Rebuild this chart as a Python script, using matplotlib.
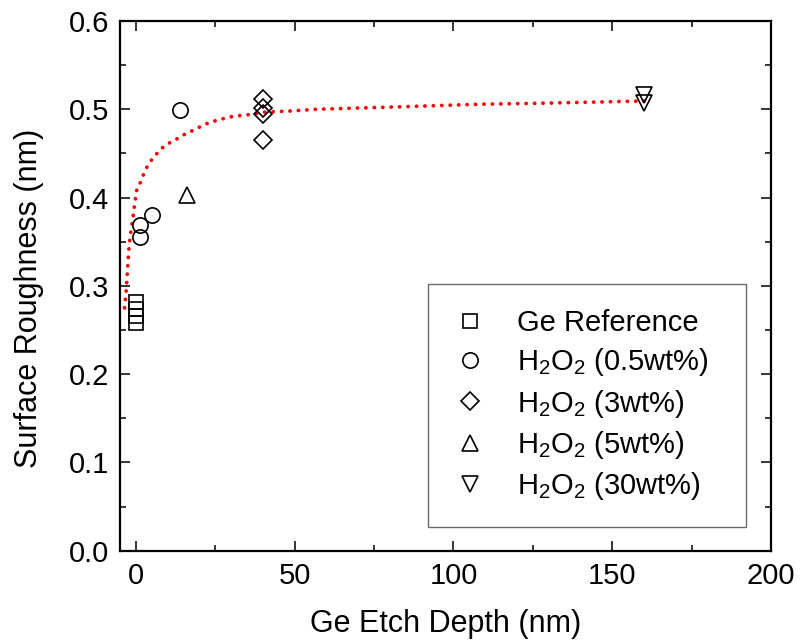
import matplotlib
matplotlib.use("Agg")
import matplotlib.pyplot as plt

plt.rcParams['font.family'] = ['Liberation Sans', 'DejaVu Sans']
plt.rcParams['mathtext.fontset'] = 'custom'
plt.rcParams['mathtext.rm'] = 'Liberation Sans'
plt.rcParams['mathtext.it'] = 'Liberation Sans'

# data
ref_x = [0, 0, 0, 0]
ref_y = [0.282, 0.274, 0.266, 0.258]
h05_x = [1.3, 1.3, 5.0, 13.8]
h05_y = [0.369, 0.355, 0.380, 0.499]
h3_x = [40, 40, 40, 40]
h3_y = [0.512, 0.501, 0.495, 0.465]
h5_x = [16]
h5_y = [0.403]
h30_x = [160, 160]
h30_y = [0.516, 0.507]

# red dotted guide curve
fit_x = [-3.6, -3.4, -3.1, -2.6, -2.3, -1.8, -1.0, -0.4, 0.3, 1.4, 2.4, 3.4, 4.8,
         6.4, 8.2, 10.1, 12.3, 14.4, 16.8, 19.1, 21.7, 25.9, 30.6, 35.8, 41.1,
         48.4, 56.8, 66.3, 85, 108, 130, 155, 162]
fit_y = [0.275, 0.282, 0.292, 0.320, 0.338, 0.356, 0.375, 0.392, 0.409, 0.417, 0.426,
         0.434, 0.442, 0.449, 0.456, 0.461, 0.465, 0.470, 0.474, 0.478, 0.483, 0.488,
         0.492, 0.494, 0.497, 0.498, 0.500, 0.501, 0.503, 0.5057, 0.507, 0.509, 0.5095]

fig = plt.figure(figsize=(8, 6.44), dpi=100)
ax = fig.add_axes([120 / 800, 1 - 550.7 / 644, 651 / 800, 529.7 / 644])

ax.plot(fit_x, fit_y, color='red', linestyle=(0, (0.05, 2.2)), linewidth=2.7,
        dash_capstyle='round', zorder=1)

mk = dict(linestyle='none', markerfacecolor='none', markeredgecolor='black',
          markeredgewidth=1.2, zorder=3)
ax.plot(ref_x, ref_y, marker='s', markersize=9.5, label='Ge Reference', **mk)
ax.plot(h05_x, h05_y, marker='o', markersize=11, label='H$_2$O$_2$ (0.5wt%)', **mk)
ax.plot(h3_x, h3_y, marker='D', markersize=9, label='H$_2$O$_2$ (3wt%)', **mk)
ax.plot(h5_x, h5_y, marker='^', markersize=12, label='H$_2$O$_2$ (5wt%)', **mk)
ax.plot(h30_x, h30_y, marker='v', markersize=12, label='H$_2$O$_2$ (30wt%)', **mk)

ax.set_xlim(-5, 200)
ax.set_ylim(0, 0.6)
ax.set_xticks([0, 50, 100, 150, 200])
ax.set_xticks([25, 75, 125, 175], minor=True)
ax.set_yticks([0.0, 0.1, 0.2, 0.3, 0.4, 0.5, 0.6])
ax.set_yticks([0.05, 0.15, 0.25, 0.35, 0.45, 0.55], minor=True)
ax.set_yticklabels(['0.0', '0.1', '0.2', '0.3', '0.4', '0.5', '0.6'])
ax.tick_params(which='both', direction='in', top=True, right=True, width=1.1,
               labelsize=21, pad=8)
ax.tick_params(which='major', length=7.5)
ax.tick_params(which='minor', length=4)
for s in ax.spines.values():
    s.set_linewidth(1.6)

ax.set_xlabel('Ge Etch Depth (nm)', fontsize=22, labelpad=14)
ax.set_ylabel('Surface Roughness (nm)', fontsize=22)
ax.yaxis.set_label_coords(-0.117, 0.477)

leg = ax.legend(loc='lower left', bbox_to_anchor=(0.473, 0.0447, 0.489, 0.457),
                mode='expand', borderaxespad=0, fontsize=21, frameon=True,
                fancybox=False, edgecolor='#444444', handlelength=1.2,
                handletextpad=1.0, labelspacing=0.32, borderpad=0.85)
leg.get_frame().set_linewidth(1.0)

fig.savefig('out.png', dpi=100)
